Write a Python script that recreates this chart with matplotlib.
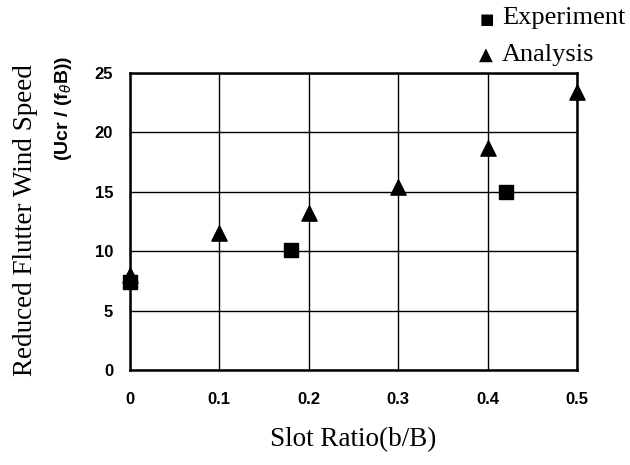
import matplotlib
matplotlib.use("Agg")
import matplotlib.pyplot as plt

# data
exp_x = [0.0, 0.18, 0.42]
exp_y = [7.4, 10.1, 15.0]
ana_x = [0.0, 0.1, 0.2, 0.3, 0.4, 0.5]
ana_y = [8.0, 11.5, 13.2, 15.4, 18.7, 23.4]
xticks = [0, 0.1, 0.2, 0.3, 0.4, 0.5]
xtick_labels = ["0", "0.1", "0.2", "0.3", "0.4", "0.5"]
yticks = [0, 5, 10, 15, 20, 25]

fig = plt.figure(figsize=(6.3, 4.65), dpi=100)
ax = fig.add_axes([0.206, 0.204, 0.71, 0.639])

ax.set_xlim(0, 0.5)
ax.set_ylim(0, 25)
ax.set_xticks(xticks)
ax.set_xticklabels(xtick_labels)
ax.set_yticks(yticks)
ax.grid(True, color="black", linewidth=1.0)
ax.set_axisbelow(True)
ax.tick_params(axis="x", length=0, pad=16, labelsize=12)
ax.tick_params(axis="y", length=0, pad=12, labelsize=12)
for lab in ax.get_xticklabels() + ax.get_yticklabels():
    lab.set_fontfamily("Liberation Sans")
    lab.set_fontweight("bold")
for s in ax.spines.values():
    s.set_linewidth(1.8)

ax.scatter(exp_x, exp_y, marker="s", s=90, color="black", zorder=3, clip_on=False)
ax.scatter(ana_x, ana_y, marker="^", s=120, color="black", zorder=3, clip_on=False)

# axis titles placed by hand, like the scanned figure
fig.text(0.561, 0.055, "Slot Ratio(b/B)", ha="center", va="center",
         fontfamily="Liberation Serif", fontsize=19.5)
fig.text(0.04, 0.527, "Reduced Flutter Wind Speed", rotation=90, ha="center", va="center",
         fontfamily="Liberation Serif", fontsize=19.5)
fig.text(0.1, 0.768, r"(Ucr / (f$_\theta$B))", rotation=90, ha="center", va="center",
         fontfamily="Liberation Sans", fontweight="bold", fontsize=14)

# legend drawn as two text rows with markers
fig.text(0.773, 0.958, "\u25a0", fontsize=11, ha="center", va="center")
fig.text(0.797, 0.961, "Experiment", fontfamily="Liberation Serif", fontsize=19, va="center")
fig.text(0.771, 0.882, "\u25b2", fontsize=13, ha="center", va="center")
fig.text(0.797, 0.882, "Analysis", fontfamily="Liberation Serif", fontsize=19, va="center")

fig.savefig("out.png", dpi=100)
